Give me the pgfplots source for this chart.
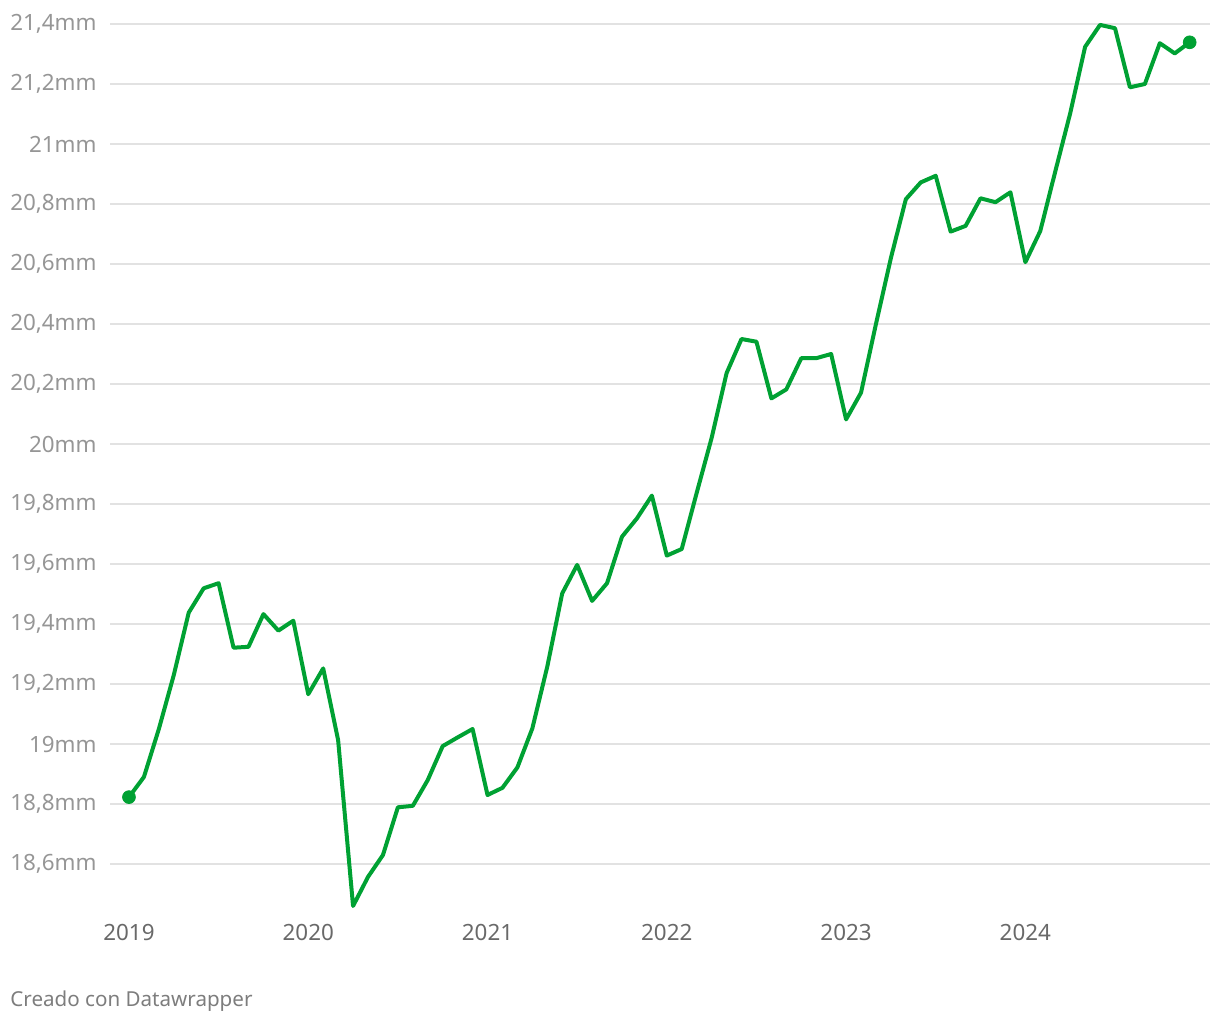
\documentclass[border=0pt]{standalone}
\usepackage{pgfplots}
\pgfplotsset{compat=1.18}
\usepackage{fontspec}
\setmainfont{Noto Sans}
\definecolor{linegreen}{RGB}{0,161,51}
\definecolor{gridgray}{RGB}{226,226,226}
\definecolor{ylab}{RGB}{150,150,150}
\definecolor{xlab}{RGB}{105,105,105}
\definecolor{foot}{RGB}{125,125,125}
\begin{document}
\begin{tikzpicture}
\path[use as bounding box] (0,0) rectangle (610pt,-511pt);
\begin{axis}[
  at={(55pt,-9pt)}, anchor=north west,
  scale only axis, width=550pt, height=445.5pt,
  xmin=-1.27, xmax=72.36, ymin=18.45, ymax=21.42,
  axis line style={draw=none},
  major tick length=0pt,
  ymajorgrids, grid style={gridgray, line width=0.85pt},
  ytick={18.6,18.8,19,19.2,19.4,19.6,19.8,20,20.2,20.4,20.6,20.8,21,21.2,21.4},
  yticklabels={{18,6mm},{18,8mm},{19mm},{19,2mm},{19,4mm},{19,6mm},{19,8mm},{20mm},{20,2mm},{20,4mm},{20,6mm},{20,8mm},{21mm},{21,2mm},{21,4mm}},
  yticklabel style={font=\fontsize{11.2}{13}\selectfont, text=ylab, anchor=east, inner sep=0pt, xshift=-6.5pt},
  xtick={0,12,24,36,48,60},
  xticklabels={2019,2020,2021,2022,2023,2024},
  xticklabel style={font=\fontsize{11.2}{13}\selectfont, text=xlab, anchor=north, inner sep=0pt, yshift=-7.5pt},
  clip=false,
]
\addplot[linegreen, line width=2pt, line join=round] coordinates {
(0,18.823)(1,18.89)(2,19.05)(3,19.23)(4,19.438)(5,19.519)(6,19.536)(7,19.321)(8,19.324)(9,19.433)(10,19.378)(11,19.411)
(12,19.166)(13,19.252)(14,19.013)(15,18.46)(16,18.557)(17,18.63)(18,18.789)(19,18.794)(20,18.88)(21,18.993)(22,19.022)(23,19.05)
(24,18.83)(25,18.854)(26,18.922)(27,19.052)(28,19.258)(29,19.502)(30,19.597)(31,19.477)(32,19.536)(33,19.691)(34,19.752)(35,19.828)
(36,19.628)(37,19.65)(38,19.837)(39,20.02)(40,20.236)(41,20.35)(42,20.341)(43,20.152)(44,20.182)(45,20.286)(46,20.286)(47,20.30)
(48,20.082)(49,20.171)(50,20.40)(51,20.62)(52,20.816)(53,20.872)(54,20.894)(55,20.708)(56,20.727)(57,20.819)(58,20.806)(59,20.839)
(60,20.606)(61,20.71)(62,20.908)(63,21.102)(64,21.324)(65,21.397)(66,21.386)(67,21.189)(68,21.20)(69,21.336)(70,21.302)(71,21.339)
};
\addplot[only marks, mark=*, mark size=3.2pt, color=linegreen] coordinates {(0,18.823)(71,21.339)};
\end{axis}
\node[anchor=base west, inner sep=0pt, text=foot, font=\fontsize{10.3}{12}\selectfont] at (5pt,-503pt) {Creado con Datawrapper};
\end{tikzpicture}
\end{document}
